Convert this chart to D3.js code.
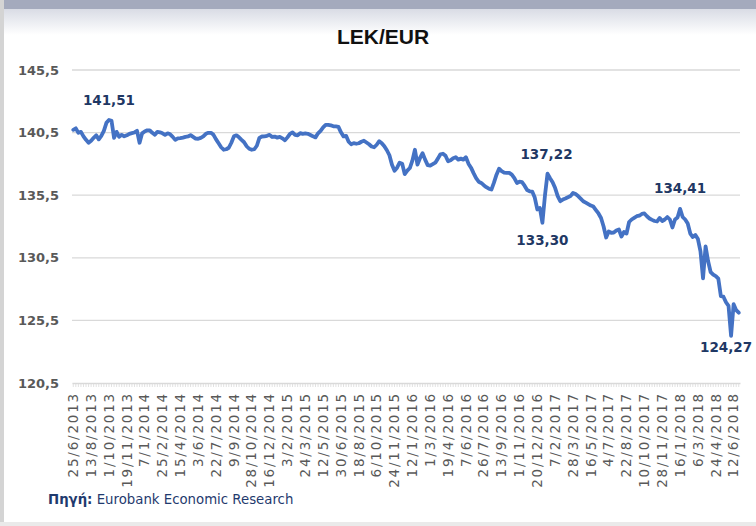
<!DOCTYPE html>
<html>
<head>
<meta charset="utf-8">
<script src="https://cdn.jsdelivr.net/npm/d3@7"></script>
<style>
  html, body { margin: 0; padding: 0; background: #ffffff; }
  svg { display: block; }
</style>
</head>
<body>
<svg id="chart" width="756" height="526"></svg>
<script>
// ---- data ----
const chartTitle = "LEK/EUR";
const yTicks = [120.5, 125.5, 130.5, 135.5, 140.5, 145.5];
const xLabels = ["25/6/2013","13/8/2013","1/10/2013","19/11/2013","7/1/2014","25/2/2014","15/4/2014","3/6/2014","22/7/2014","9/9/2014","28/10/2014","16/12/2014","3/2/2015","24/3/2015","12/5/2015","30/6/2015","18/8/2015","6/10/2015","24/11/2015","12/1/2016","1/3/2016","19/4/2016","7/6/2016","26/7/2016","13/9/2016","1/11/2016","20/12/2016","7/2/2017","28/3/2017","16/5/2017","4/7/2017","22/8/2017","10/10/2017","28/11/2017","16/1/2018","6/3/2018","24/4/2018","12/6/2018"];
const labelEvery = 7; // weekly observations, one label every 7 weeks
const values = [
140.72,140.84,140.48,140.56,140.20,139.92,139.69,139.85,140.08,140.28,
139.96,140.24,140.64,141.28,141.51,141.44,140.08,140.56,140.16,140.32,
140.20,140.28,140.40,140.46,140.51,140.64,139.69,140.44,140.59,140.68,
140.68,140.48,140.32,140.56,140.52,140.44,140.32,140.44,140.36,140.16,
139.92,140.04,140.06,140.10,140.16,140.19,140.30,140.16,140.02,140.01,
140.08,140.20,140.40,140.48,140.48,140.32,139.96,139.65,139.33,139.13,
139.17,139.29,139.69,140.20,140.28,140.12,139.92,139.73,139.41,139.21,
139.13,139.17,139.45,140.08,140.19,140.20,140.24,140.32,140.15,140.18,
140.10,140.16,140.04,139.88,140.12,140.40,140.52,140.32,140.28,140.46,
140.40,140.43,140.40,140.31,140.20,140.12,140.44,140.64,140.92,141.12,
141.12,141.08,141.00,141.00,140.96,140.52,140.20,140.24,139.77,139.57,
139.66,139.61,139.65,139.77,139.85,139.71,139.57,139.39,139.33,139.53,
139.81,139.65,139.41,139.09,138.69,137.94,137.46,137.70,138.10,138.02,
137.18,137.46,137.67,138.26,139.13,137.94,138.47,138.85,138.34,137.90,
137.86,137.98,138.10,138.42,138.77,138.81,138.65,138.21,138.29,138.45,
138.53,138.34,138.42,138.34,138.53,138.02,137.70,137.26,136.86,136.58,
136.48,136.30,136.14,136.02,135.95,136.50,137.14,137.62,137.42,137.30,
137.28,137.28,137.14,136.86,136.48,136.58,136.54,136.26,135.91,135.81,
135.79,135.31,134.36,134.48,133.30,135.47,137.22,136.86,136.54,136.07,
135.43,135.02,135.15,135.23,135.33,135.43,135.68,135.59,135.43,135.23,
135.02,134.91,134.79,134.67,134.59,134.31,134.04,133.68,133.00,132.12,
132.60,132.50,132.52,132.68,132.76,132.20,132.56,132.44,133.36,133.56,
133.69,133.82,133.86,134.00,134.04,133.82,133.64,133.53,133.44,133.40,
133.68,133.44,133.56,133.76,133.56,132.92,133.56,133.72,134.41,133.76,
133.56,133.24,132.44,132.16,132.32,132.00,131.01,128.86,131.41,130.22,
129.35,129.15,129.03,128.83,127.43,127.39,126.95,126.66,124.27,126.80,
126.32,126.12
];
const annotatedWeeks = [14, 186, 184, 238, 258];
const annotatedLabels = ["141,51", "137,22", "133,30", "134,41", "124,27"];
const sourceLabel = "Πηγή:";
const sourceText = "Eurobank Economic Research";

// ---- drawing ----
const svg = d3.select("#chart");
const W = 756, H = 526;
const plot = { left: 72, right: 740, top: 70, bottom: 383 };
const fmt = v => d3.format(".1f")(v).replace(".", ",");

// frame / background
const defs = svg.append("defs");
const grad = defs.append("linearGradient").attr("id", "topfade").attr("x1", 0).attr("x2", 0).attr("y1", 0).attr("y2", 1);
grad.append("stop").attr("offset", "0%").attr("stop-color", "#d9dce5");
grad.append("stop").attr("offset", "100%").attr("stop-color", "#ffffff");
svg.append("rect").attr("width", W).attr("height", H).attr("fill", "#ffffff");
svg.append("rect").attr("x", 0).attr("y", 9).attr("width", W).attr("height", 26).attr("fill", "url(#topfade)");
svg.append("rect").attr("x", 0).attr("y", 0).attr("width", W).attr("height", 9).attr("fill", "#a4aabd");
svg.append("rect").attr("x", 0).attr("y", 0).attr("width", 4).attr("height", H).attr("fill", "#d4d4d4");
svg.append("rect").attr("x", 0).attr("y", 522).attr("width", W).attr("height", 4).attr("fill", "#eaeaea");

// title
svg.append("text").attr("x", 383).attr("y", 44).attr("text-anchor", "middle")
  .attr("font-family", "'Liberation Sans', Arial, sans-serif").attr("font-weight", "bold")
  .attr("font-size", 21).attr("fill", "#111111").text(chartTitle);

const x = d3.scaleBand().domain(d3.range(values.length)).range([plot.left, plot.right]).padding(0);
const y = d3.scaleLinear().domain([yTicks[0], yTicks[yTicks.length - 1]]).range([plot.bottom, plot.top]);
const cx = i => x(i) + x.bandwidth() / 2;

// gridlines
svg.append("g").selectAll("line").data(yTicks.slice(1)).join("line")
  .attr("x1", plot.left).attr("x2", plot.right)
  .attr("y1", d => y(d)).attr("y2", d => y(d))
  .attr("stroke", "#d9d9d9").attr("stroke-width", 1.3);

// y axis labels
const yAxis = svg.append("g").attr("transform", `translate(${plot.left},0)`)
  .call(d3.axisLeft(y).tickValues(yTicks).tickSize(0).tickPadding(13).tickFormat(fmt));
yAxis.select(".domain").remove();
yAxis.selectAll("text").attr("font-family", "'DejaVu Sans', Verdana, sans-serif")
  .attr("font-weight", "bold").attr("font-size", 13).attr("fill", "#595959");

// x axis: fine ticks for every week
const xTickAxis = svg.append("g").attr("transform", `translate(0,${plot.bottom})`)
  .call(d3.axisBottom(x).tickValues(d3.range(values.length)).tickSize(4).tickSizeOuter(0).tickFormat(""));
xTickAxis.selectAll("line").attr("stroke", "#d9d9d9").attr("stroke-width", 0.8);
xTickAxis.select(".domain").attr("stroke", "#d9d9d9").attr("stroke-width", 1.3);

// x axis labels
const labelIdx = xLabels.map((_, k) => k * labelEvery);
const xLabAxis = svg.append("g").attr("transform", `translate(0,${plot.bottom})`)
  .call(d3.axisBottom(x).tickValues(labelIdx).tickSize(0).tickFormat(i => xLabels[i / labelEvery]));
xLabAxis.select(".domain").remove();
xLabAxis.selectAll("text")
  .attr("transform", "rotate(-90)").attr("x", -9).attr("y", 0).attr("dy", "0.35em")
  .style("text-anchor", "end")
  .attr("font-family", "'DejaVu Sans', Verdana, sans-serif")
  .attr("font-size", 13.5).attr("letter-spacing", 1.8).attr("fill", "#595959");

// line
svg.append("path").datum(values)
  .attr("d", d3.line().x((d, i) => cx(i)).y(d => y(d)))
  .attr("fill", "none").attr("stroke", "#4472c4").attr("stroke-width", 3.8)
  .attr("stroke-linejoin", "round").attr("stroke-linecap", "round");

// annotations
const annOffsets = [[0, -15], [-1, -15], [0, 22], [0, -16], [-5, 16]];
svg.append("g").selectAll("text").data(annotatedWeeks).join("text")
  .attr("x", (d, k) => cx(d) + annOffsets[k][0])
  .attr("y", (d, k) => y(values[d]) + annOffsets[k][1])
  .attr("text-anchor", "middle")
  .attr("font-family", "'DejaVu Sans', Verdana, sans-serif").attr("font-weight", "bold")
  .attr("font-size", 13.5).attr("fill", "#1f3864")
  .text((d, k) => annotatedLabels[k]);

// source
const src = svg.append("text").attr("x", 48).attr("y", 504)
  .attr("font-family", "'DejaVu Sans', Verdana, sans-serif").attr("font-size", 13.3).attr("fill", "#1f3a6e");
src.append("tspan").attr("font-weight", "bold").text(sourceLabel);
src.append("tspan").text(" " + sourceText);
</script>
</body>
</html>
